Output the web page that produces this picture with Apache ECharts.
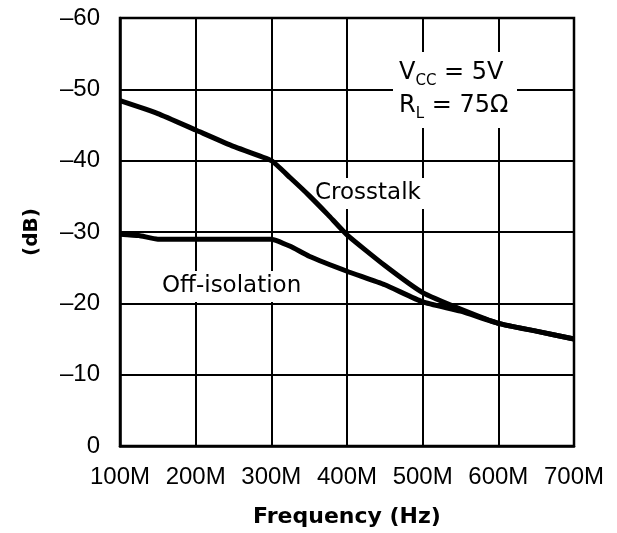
<!DOCTYPE html>
<html>
<head>
<meta charset="utf-8">
<script src="https://cdn.jsdelivr.net/npm/echarts@6/dist/echarts.min.js"></script>
<style>html,body{margin:0;padding:0;background:#fff}#c{width:617px;height:533px}</style>
</head>
<body>
<div id="c"></div>
<script>
const xTickValues = [100, 200, 300, 400, 500, 600, 700];
const xTickLabels = ['100M', '200M', '300M', '400M', '500M', '600M', '700M'];
const yTickValues = [0, -10, -20, -30, -40, -50, -60];
const yTickLabels = ['0', '\u201310', '\u201320', '\u201330', '\u201340', '\u201350', '\u201360'];

const crosstalkFreq = [100, 150, 200, 250, 300, 325, 350, 375, 400, 450, 500, 550, 600, 650, 700];
const crosstalkDb = [-48.4, -46.6, -44.3, -42.0, -40.0, -37.6, -35.1, -32.4, -29.6, -25.3, -21.5, -19.2, -17.2, -16.1, -15.0];

const offIsoFreq = [100, 125, 150, 200, 250, 300, 325, 350, 400, 450, 500, 550, 600, 650, 700];
const offIsoDb = [-29.7, -29.5, -29.0, -29.0, -29.0, -29.0, -28.0, -26.6, -24.5, -22.6, -20.2, -18.9, -17.2, -16.1, -15.0];

const FONT = 'DejaVu Sans';
const NUMFONT = 'Liberation Sans';
const chart = echarts.init(document.getElementById('c'), null, {renderer: 'canvas'});
const pair = (xs, ys) => xs.map((x, i) => [x, ys[i]]);

chart.setOption({
  animation: false,
  backgroundColor: '#fff',
  grid: {left: 120, right: 43, top: 18, bottom: 86, show: true, borderColor: '#000', borderWidth: 2.5, backgroundColor: 'transparent'},
  xAxis: {
    type: 'value', min: 100, max: 700, interval: 100,
    name: 'Frequency (Hz)', nameLocation: 'middle', nameGap: 60,
    nameTextStyle: {fontFamily: FONT, fontWeight: 'bold', fontSize: 22, color: '#000'},
    axisLine: {show: true, lineStyle: {color: '#000', width: 2.5}},
    axisTick: {show: false},
    splitLine: {show: true, lineStyle: {color: '#000', width: 2}},
    axisLabel: {
      fontFamily: NUMFONT, fontSize: 24, color: '#000', margin: 19,
      formatter: v => { const i = xTickValues.indexOf(v); return i >= 0 ? xTickLabels[i] : ''; }
    }
  },
  yAxis: {
    type: 'value', min: -60, max: 0, interval: 10, inverse: true,
    name: '(dB)', nameLocation: 'middle', nameGap: 78, nameRotate: 90,
    nameTextStyle: {fontFamily: FONT, fontWeight: 'bold', fontSize: 20, color: '#000'},
    axisLine: {show: true, lineStyle: {color: '#000', width: 2.5}},
    axisTick: {show: false},
    splitLine: {show: true, lineStyle: {color: '#000', width: 2}},
    axisLabel: {
      fontFamily: NUMFONT, fontSize: 24, color: '#000', margin: 20,
      formatter: v => { const i = yTickValues.indexOf(v); return i >= 0 ? yTickLabels[i] : ''; }
    }
  },
  graphic: [
    {
      type: 'text', z: 1, left: 393, top: 52,
      style: {
        rich: {
          n: {fontFamily: FONT, fontSize: 24, fill: '#000', lineHeight: 33},
          s: {fontFamily: FONT, fontSize: 15, fill: '#000', lineHeight: 33, verticalAlign: 'bottom', padding: [12, 0, 0, 0]}
        },
        text: '{n|V}{s|CC}{n| = 5V}\n{n|R}{s|L}{n| = 75\u03A9}',
        align: 'center',
        backgroundColor: '#fff', padding: [4, 6, 6, 6],
        width: 112
      }
    },
    {
      type: 'text', z: 1, left: 313, top: 178,
      style: {text: 'Crosstalk', fontFamily: FONT, fontSize: 23, fill: '#000', backgroundColor: '#fff', padding: [4, 4, 4, 2]}
    },
    {
      type: 'text', z: 1, left: 156, top: 271,
      style: {text: 'Off-isolation', fontFamily: FONT, fontSize: 23, fill: '#000', backgroundColor: '#fff', padding: [4, 6, 4, 6]}
    }
  ],
  series: [
    {name: 'Crosstalk', type: 'line', z: 3, data: pair(crosstalkFreq, crosstalkDb), symbol: 'none', smooth: 0.15,
     lineStyle: {color: '#000', width: 5}},
    {name: 'Off-isolation', type: 'line', z: 3, data: pair(offIsoFreq, offIsoDb), symbol: 'none', smooth: 0.15,
     lineStyle: {color: '#000', width: 5}}
  ]
});
</script>
</body>
</html>
